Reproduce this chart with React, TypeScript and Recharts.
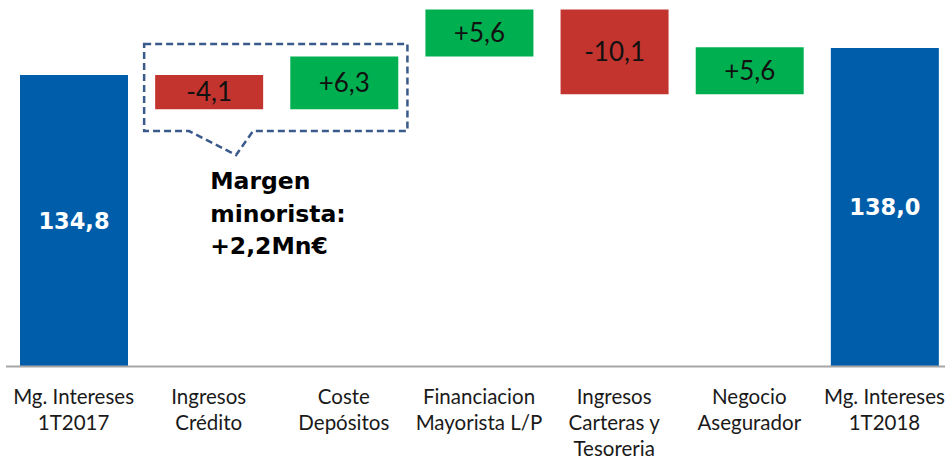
import React from 'react';
import { BarChart, Bar, XAxis, YAxis, Cell, LabelList, ReferenceArea } from 'recharts';

// waterfall: 1T2017 -> 1T2018 margen de intereses (Mn€)
const categories = [
  'Mg. Intereses\n1T2017',
  'Ingresos\nCrédito',
  'Coste\nDepósitos',
  'Financiacion\nMayorista L/P',
  'Ingresos\nCarteras y\nTesoreria',
  'Negocio\nAsegurador',
  'Mg. Intereses\n1T2018',
];
const values = [134.8, -4.1, 6.3, 5.6, -10.1, 5.6, 138.0];
const isTotal = [true, false, false, false, false, false, true];

// the two items grouped in the dashed callout
const retailItems = ['Ingresos\nCrédito', 'Coste\nDepósitos'];

const AXIS_MIN = 100;
const AXIS_MAX = 143.5;

const BLUE = '#005DAA';
const GREEN = '#00B050';
const RED = '#C4342F';

const fmt = (v: number, signed: boolean) =>
  (signed && v > 0 ? '+' : '') + v.toFixed(1).replace('.', ',');

let running = 0;
const data = categories.map((name, i) => {
  const v = values[i];
  if (isTotal[i]) {
    running = v;
    return { name, range: [AXIS_MIN, v], value: v, total: true };
  }
  const start = running;
  running += v;
  return { name, range: [Math.min(start, running), Math.max(start, running)], value: v, total: false };
});

const retailSum = values
  .filter((_, i) => retailItems.includes(categories[i]))
  .reduce((a, b) => a + b, 0);
const retailTop = Math.max(...data.filter((d) => retailItems.includes(d.name)).map((d) => d.range[1]));
const retailBottom = Math.min(...data.filter((d) => retailItems.includes(d.name)).map((d) => d.range[0]));

const CategoryTick = ({ x, y, payload }: any) => {
  const lines = String(payload.value).split('\n');
  return (
    <text x={x} y={y + 37.5} textAnchor="middle" fontFamily="Lato" fontSize={20.5} fill="#1a1a1a">
      {lines.map((l, i) => (
        <tspan key={i} x={x} dy={i === 0 ? 0 : 26}>
          {l}
        </tspan>
      ))}
    </text>
  );
};

const BarValueLabel = (props: any) => {
  const { x, y, width, height, index } = props;
  const d = data[index];
  const cx = x + width / 2;
  const cy = y + height / 2;
  if (d.total) {
    return (
      <text x={cx} y={cy + 8} textAnchor="middle" fontFamily="DejaVu Sans" fontWeight="bold" fontSize={22.5} fill="#fff">
        {fmt(d.value, false)}
      </text>
    );
  }
  return (
    <text x={cx} y={cy + 9.4} textAnchor="middle" fontFamily="Lato" fontSize={26} fill="#111">
      {fmt(d.value, true)}
    </text>
  );
};

const CalloutShape = (props: any) => {
  const { x, y, width, height } = props;
  const l = x + 3;
  const r = x + width - 4;
  const t = y;
  const b = y + height;
  const tipX = l + width * 0.34;
  const tipY = b + 24;
  const path = `M${l},${t} H${r} V${b} H${tipX + 17} L${tipX},${tipY} L${tipX - 47},${b} H${l} Z`;
  const tx = l + 66;
  return (
    <g>
      <path d={path} fill="none" stroke="#3B5A8C" strokeWidth={2.5} strokeDasharray="7 4" />
      <text fontFamily="DejaVu Sans" fontWeight="bold" fontSize={23.5} fill="#000">
        <tspan x={tx} y={b + 58}>Margen</tspan>
        <tspan x={tx} y={b + 91}>minorista:</tspan>
        <tspan x={tx} y={b + 123}>{fmt(retailSum, true) + 'Mn€'}</tspan>
      </text>
    </g>
  );
};

export default function App() {
  return (
    <div style={{ position: 'absolute', left: 0, top: 0, width: 945, height: 459, overflow: 'hidden', background: '#fff' }}>
      <BarChart width={952} height={459} data={data} margin={{ top: 2, right: 0, left: 6, bottom: 0 }} barSize={108}>
        <YAxis hide domain={[AXIS_MIN, AXIS_MAX]} allowDataOverflow />
        <XAxis
          dataKey="name"
          interval={0}
          height={92.5}
          tickLine={false}
          tickSize={0}
          tickMargin={0}
          axisLine={{ stroke: '#A6A6A6', strokeWidth: 2 }}
          tick={<CategoryTick />}
        />
        <Bar dataKey="range" isAnimationActive={false}>
          {data.map((d, i) => (
            <Cell key={i} fill={d.total ? BLUE : d.value > 0 ? GREEN : RED} />
          ))}
          <LabelList dataKey="range" content={<BarValueLabel />} />
        </Bar>
        <ReferenceArea
          x1={retailItems[0]}
          x2={retailItems[retailItems.length - 1]}
          y1={retailBottom - 2.6}
          y2={retailTop + 1.5}
          shape={<CalloutShape />}
        />
      </BarChart>
    </div>
  );
}
